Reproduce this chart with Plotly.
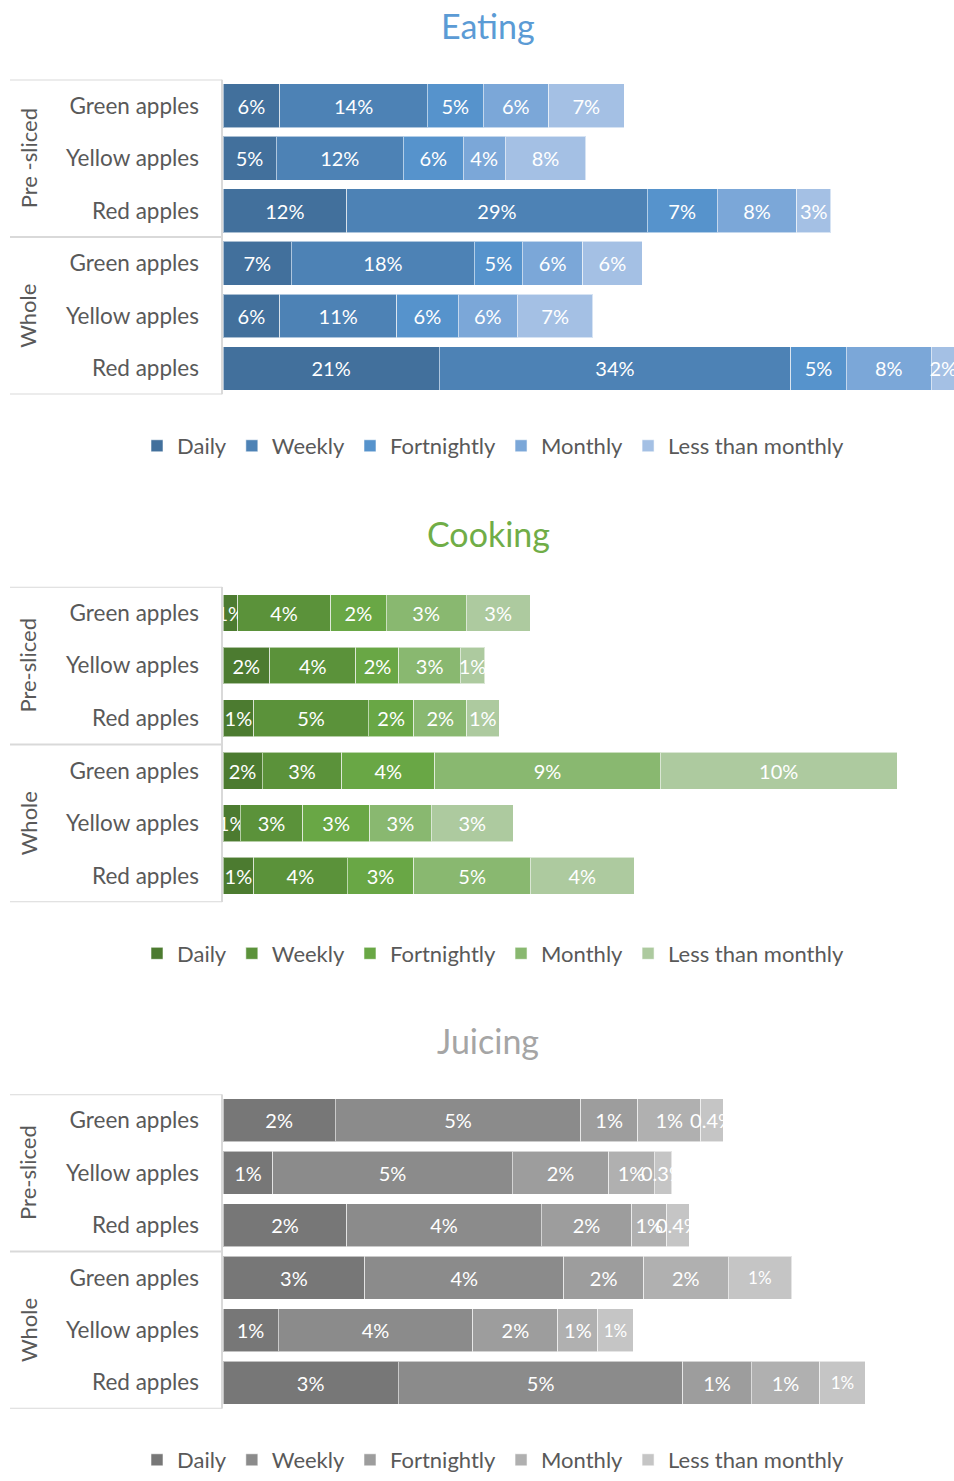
import plotly.graph_objects as go

FONT = "Lato"
TXT = "#595959"

groups = ["Pre-sliced"] * 3 + ["Whole"] * 3
apples = ["Green apples", "Yellow apples", "Red apples"] * 2
frequencies = ["Daily", "Weekly", "Fortnightly", "Monthly", "Less than monthly"]

# Eating (% of respondents)
eating_daily = [5.55, 5.2, 12.1, 6.7, 5.55, 21.15]
eating_weekly = [14.45, 12.45, 29.4, 17.9, 11.45, 34.4]
eating_fortnightly = [5.45, 5.85, 6.85, 4.7, 6.0, 5.45]
eating_monthly = [6.4, 4.1, 7.8, 5.9, 5.8, 8.3]
eating_less = [7.4, 7.9, 3.3, 5.8, 7.4, 2.35]

# Cooking
cooking_daily = [0.61, 1.94, 1.28, 1.63, 0.72, 1.28]
cooking_weekly = [3.87, 3.6, 4.78, 3.32, 2.6, 3.89]
cooking_fortnightly = [2.32, 1.79, 1.89, 3.87, 2.79, 2.78]
cooking_monthly = [3.33, 2.56, 2.2, 9.4, 2.56, 4.86]
cooking_less = [2.67, 1.01, 1.35, 9.87, 3.43, 4.32]

# Juicing
juicing_daily = [2.14, 0.95, 2.36, 2.7, 1.05, 3.34]
juicing_weekly = [4.67, 4.56, 3.7, 3.79, 3.71, 5.42]
juicing_fortnightly = [1.09, 1.84, 1.73, 1.52, 1.62, 1.3]
juicing_monthly = [1.2, 0.86, 0.66, 1.61, 0.76, 1.31]
juicing_less = [0.43, 0.34, 0.43, 1.21, 0.67, 0.86]

blues = ["#42709C", "#4D82B5", "#5693CC", "#7BA7D8", "#A4C0E4"]
greens = ["#4C7B30", "#5B923A", "#69A745", "#89B870", "#ADCA9F"]
grays = ["#777777", "#8B8B8B", "#9D9D9D", "#B0B0B0", "#C5C5C5"]

W, H = 954, 1481


def fmt(v):
    return f"{v:.1f}%" if v < 0.5 else f"{round(v):.0f}%"


def py(px):
    return 1 - px / H


charts = [
    dict(title="Eating", tcolor="#5B9BD5", colors=blues, pre_label="Pre -sliced",
         series=[eating_daily, eating_weekly, eating_fortnightly, eating_monthly, eating_less],
         top=80, bottom=397.3, bw=0.83, pxper=10.22, title_y=26, leg_y=449),
    dict(title="Cooking", tcolor="#70AD47", colors=greens, pre_label="Pre-sliced",
         series=[cooking_daily, cooking_weekly, cooking_fortnightly, cooking_monthly, cooking_less],
         top=590.7, bottom=908.3, bw=0.70, pxper=24.0, title_y=537, leg_y=960),
    dict(title="Juicing", tcolor="#A5A5A5", colors=grays, pre_label="Pre-sliced",
         series=[juicing_daily, juicing_weekly, juicing_fortnightly, juicing_monthly, juicing_less],
         top=1101.7, bottom=1418.3, bw=0.82, pxper=52.5, title_y=1048, leg_y=1470),
]

ids = [f"{g}|{a}" for g, a in zip(groups, apples)]
x0_px = 223

fig = go.Figure()
annotations = []
shapes = []
layout = {}

for i, ch in enumerate(charts):
    n = "" if i == 0 else str(i + 1)
    xa, ya = "x" + n, "y" + n
    leg = "legend" + n
    for j, (freq, vals) in enumerate(zip(frequencies, ch["series"])):
        sizes = [20] * 6
        if ch["title"] == "Juicing" and j == 4:
            sizes = [20, 20, 20, 17, 17, 17]
        fig.add_trace(go.Bar(
            orientation="h", x=vals, y=ids, name=freq,
            xaxis=xa, yaxis=ya, legend=leg,
            marker=dict(color=ch["colors"][j], line=dict(color="rgba(255,255,255,0.55)", width=1)),
            width=ch["bw"],
            text=[fmt(v) for v in vals], textposition="inside", insidetextanchor="middle",
            textangle=0, constraintext="none", cliponaxis=True,
            textfont=dict(color="white", size=sizes, family=FONT),
            hoverinfo="x+y+name",
        ))
    layout["xaxis" + n] = dict(domain=[x0_px / W, 1], range=[0, (W - x0_px) / ch["pxper"]],
                               visible=False, anchor=ya)
    layout["yaxis" + n] = dict(domain=[py(ch["bottom"]), py(ch["top"])], type="category",
                               categoryorder="array", categoryarray=ids, range=[5.5, -0.5],
                               tickvals=ids, ticktext=apples,
                               showgrid=False, showline=False, zeroline=False, ticks="",
                               ticklabelstandoff=23, anchor=xa,
                               tickfont=dict(family=FONT, size=22.5, color=TXT))
    layout[leg] = dict(orientation="h", x=493 / W, xanchor="center", y=py(ch["leg_y"]),
                       yanchor="middle", traceorder="normal", bgcolor="rgba(0,0,0,0)",
                       font=dict(family=FONT, size=22, color=TXT))
    annotations.append(dict(text=ch["title"], xref="paper", yref="paper", x=488 / W,
                            y=py(ch["title_y"]), xanchor="center", yanchor="middle",
                            showarrow=False, font=dict(family=FONT, size=34, color=ch["tcolor"])))
    for yy, lab in [(1, ch["pre_label"]), (4, "Whole")]:
        annotations.append(dict(text=lab, xref="paper", yref=ya, x=28 / W, y=yy,
                                xanchor="center", yanchor="middle", textangle=-90,
                                showarrow=False, font=dict(family=FONT, size=22, color=TXT)))
    for yy in [-0.5, 2.5, 5.5]:
        shapes.append(dict(type="line", xref="paper", yref=ya, x0=10 / W, x1=222 / W,
                           y0=yy, y1=yy, line=dict(color="#D9D9D9", width=2)))
    shapes.append(dict(type="line", xref="paper", yref=ya, x0=222 / W, x1=222 / W,
                       y0=-0.5, y1=5.5, line=dict(color="#D9D9D9", width=2)))

fig.update_layout(
    width=W, height=H, margin=dict(l=0, r=0, t=0, b=0),
    barmode="stack", plot_bgcolor="white", paper_bgcolor="white",
    font=dict(family=FONT, color=TXT),
    annotations=annotations, shapes=shapes, **layout,
)

fig.write_html("out.html")
